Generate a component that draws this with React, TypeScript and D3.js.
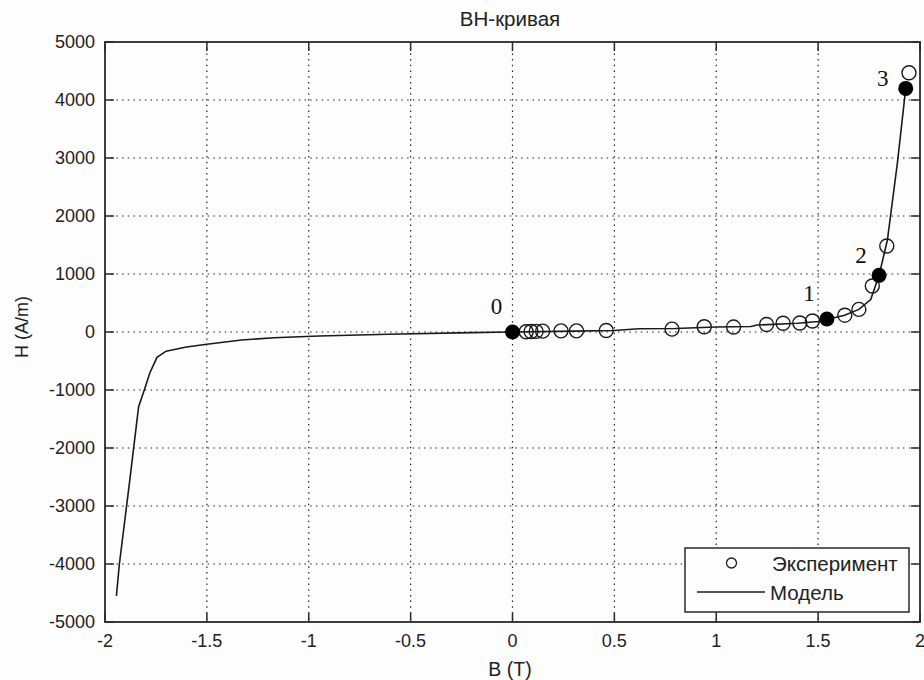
import React from "react";
import * as d3 from "d3";

const title = "BH-кривая";
const xLabel = "B (T)";
const yLabel = "H (A/m)";
const xTicks = [-2, -1.5, -1, -0.5, 0, 0.5, 1, 1.5, 2];
const yTicks = [-5000, -4000, -3000, -2000, -1000, 0, 1000, 2000, 3000, 4000, 5000];

// Model curve
const modelB = [-1.944, -1.93, -1.88, -1.835, -1.81, -1.78, -1.745, -1.70, -1.60, -1.50, -1.33, -1.17, -0.95, -0.61, -0.20, 0, 0.30, 0.50, 0.62, 0.80, 1.00, 1.17, 1.20, 1.40, 1.50, 1.543, 1.63, 1.70, 1.758, 1.799, 1.84, 1.889, 1.93];
const modelH = [-4552, -4017, -2600, -1288, -1029, -707, -437, -330, -260, -210, -138, -100, -70, -40, -10, 0, 15, 25, 55, 60, 85, 95, 120, 150, 180, 215, 290, 390, 560, 977, 1586, 2914, 4200];

// Experimental points
const expB = [0.067, 0.091, 0.116, 0.148, 0.238, 0.314, 0.46, 0.783, 0.941, 1.085, 1.247, 1.328, 1.41, 1.472, 1.631, 1.70, 1.766, 1.837, 1.946];
const expH = [5, 8, 10, 15, 20, 20, 25, 50, 90, 85, 130, 150, 155, 190, 290, 390, 793, 1483, 4470];

// Key points
const keyB = [0, 1.543, 1.799, 1.93];
const keyH = [0, 224, 977, 4200];
const keyLabels = ["0", "1", "2", "3"];
const keyLabelDx = [-16, -18, -18, -23];
const keyLabelDy = [-26, -26, -20, -10];

const W = 924;
const H = 680;
const left = 105, right = 920, top = 42, bottom = 622;

export default function App() {
  const x = d3.scaleLinear().domain([-2, 2]).range([left, right]);
  const y = d3.scaleLinear().domain([-5000, 5000]).range([bottom, top]);
  const line = d3
    .line<number>()
    .x((_, i) => x(modelB[i]))
    .y((_, i) => y(modelH[i]));
  const font = "'Liberation Sans', Arial, sans-serif";
  const tickLen = 9;
  const axisColor = "#2a2a2a";
  const legX = 685, legY = 548, legW = 224, legH = 64;

  return (
    <svg
      width={W}
      height={H}
      style={{ position: "absolute", left: 0, top: 0, background: "#fdfdfd" }}
      fontFamily={font}
    >
      <rect x={0} y={0} width={W} height={H} fill="#fdfdfd" />
      {/* grid */}
      {xTicks.slice(1, -1).map((t) => (
        <line key={"gx" + t} x1={x(t)} x2={x(t)} y1={top} y2={bottom} stroke="#222" strokeWidth={1.2} strokeDasharray="1.5,4.2" />
      ))}
      {yTicks.slice(1, -1).map((t) => (
        <line key={"gy" + t} x1={left} x2={right} y1={y(t)} y2={y(t)} stroke="#222" strokeWidth={1.2} strokeDasharray="1.5,4.2" />
      ))}
      {/* ticks */}
      {xTicks.map((t) => (
        <g key={"tx" + t}>
          <line x1={x(t)} x2={x(t)} y1={bottom} y2={bottom - tickLen} stroke={axisColor} strokeWidth={1.5} />
          <line x1={x(t)} x2={x(t)} y1={top} y2={top + tickLen} stroke={axisColor} strokeWidth={1.5} />
          <text x={x(t)} y={641} textAnchor="middle" dominantBaseline="central" fontSize={18} fill="#222">
            {String(t)}
          </text>
        </g>
      ))}
      {yTicks.map((t) => (
        <g key={"ty" + t}>
          <line x1={left} x2={left + tickLen} y1={y(t)} y2={y(t)} stroke={axisColor} strokeWidth={1.5} />
          <line x1={right} x2={right - tickLen} y1={y(t)} y2={y(t)} stroke={axisColor} strokeWidth={1.5} />
          <text x={95} y={y(t)} textAnchor="end" dominantBaseline="central" fontSize={18} fill="#222">
            {String(t)}
          </text>
        </g>
      ))}
      {/* model */}
      <path d={line(modelB) || ""} fill="none" stroke="#1a1a1a" strokeWidth={1.6} />
      {/* experiment */}
      {expB.map((b, i) => (
        <circle key={"e" + i} cx={x(b)} cy={y(expH[i])} r={7} fill="none" stroke="#1a1a1a" strokeWidth={1.4} />
      ))}
      {/* key points */}
      {keyB.map((b, i) => (
        <g key={"k" + i}>
          <circle cx={x(b)} cy={y(keyH[i])} r={7.5} fill="#000" />
          <text
            x={x(b) + keyLabelDx[i]}
            y={y(keyH[i]) + keyLabelDy[i]}
            textAnchor="middle"
            dominantBaseline="central"
            fontFamily="'Liberation Serif', 'DejaVu Serif', serif"
            fontSize={23}
            fill="#111"
          >
            {keyLabels[i]}
          </text>
        </g>
      ))}
      {/* frame */}
      <rect x={left} y={top} width={right - left} height={bottom - top} fill="none" stroke={axisColor} strokeWidth={1.8} />
      {/* legend */}
      <rect x={legX} y={legY} width={legW} height={legH} fill="#fdfdfd" stroke={axisColor} strokeWidth={1.5} />
      <circle cx={731.5} cy={563} r={5} fill="none" stroke="#1a1a1a" strokeWidth={1.3} />
      <text x={772} y={563} dominantBaseline="central" fontSize={20.5} fill="#222">Эксперимент</text>
      <line x1={697} x2={765} y1={592} y2={592} stroke="#1a1a1a" strokeWidth={1.6} />
      <text x={770} y={592} dominantBaseline="central" fontSize={20.5} fill="#222">Модель</text>
      {/* titles */}
      <text x={510} y={18} textAnchor="middle" dominantBaseline="central" fontSize={20.5} fill="#222">{title}</text>
      <text x={510} y={669} textAnchor="middle" dominantBaseline="central" fontSize={19.5} fill="#222">{xLabel}</text>
      <text
        transform={`translate(22,327) rotate(-90)`}
        textAnchor="middle"
        dominantBaseline="central"
        fontSize={18}
        fill="#222"
      >
        {yLabel}
      </text>
    </svg>
  );
}
